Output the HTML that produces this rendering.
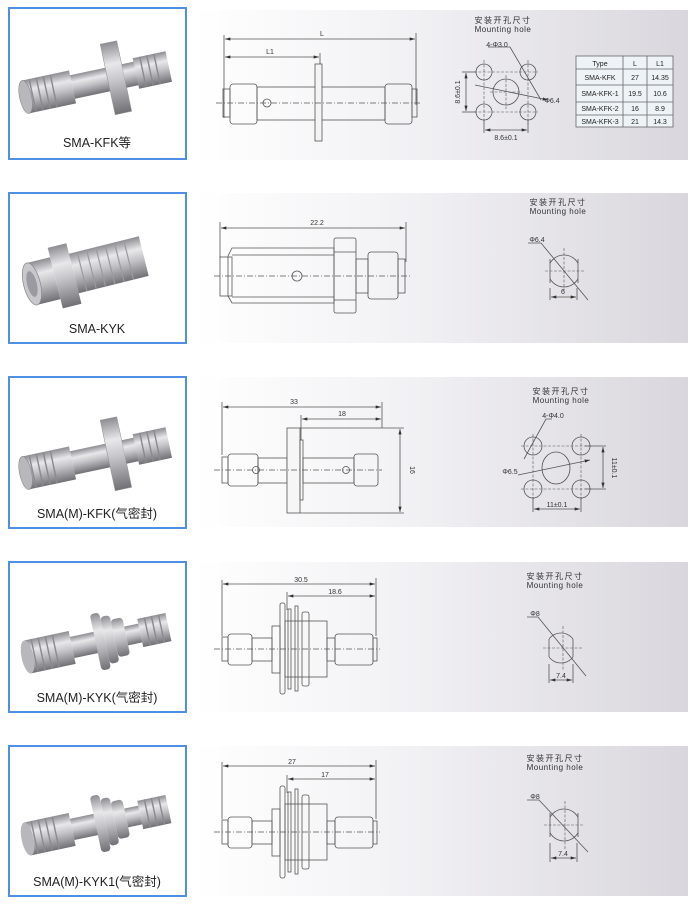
<!DOCTYPE html>
<html><head><meta charset="utf-8"><style>
html,body{margin:0;padding:0;background:#fff;}
svg{display:block;font-family:"Liberation Sans","Noto Sans CJK SC",sans-serif;}
</style></head><body>
<svg width="696" height="906" viewBox="0 0 696 906" xmlns="http://www.w3.org/2000/svg">
<defs>
<linearGradient id="pg" x1="0" y1="0" x2="1" y2="0">
<stop offset="0" stop-color="#ffffff"/><stop offset="0.45" stop-color="#f1f0f3"/><stop offset="1" stop-color="#d9d7dd"/>
</linearGradient>
<linearGradient id="met" x1="0" y1="0" x2="0" y2="1">
<stop offset="0" stop-color="#8d8d92"/><stop offset="0.3" stop-color="#e8e8ea"/><stop offset="0.55" stop-color="#c4c4c8"/><stop offset="1" stop-color="#707075"/>
</linearGradient>
<clipPath id="c2"><rect x="550" y="240" width="28" height="60"/></clipPath>
<clipPath id="c4"><rect x="549" y="620" width="24" height="60"/></clipPath>
<clipPath id="c5"><rect x="550" y="800" width="28" height="60"/></clipPath>
<g id="photoA">
<rect x="-60" y="-14" width="40" height="28" fill="url(#met)"/>
<rect x="-20" y="-10" width="35" height="20" fill="url(#met)"/>
<rect x="10" y="-30" width="14" height="60" fill="url(#met)" stroke="#999" stroke-width="0.5"/>
<rect x="24" y="-10" width="12" height="20" fill="url(#met)"/>
<rect x="34" y="-13" width="28" height="26" fill="url(#met)"/>
<ellipse cx="-60" cy="0" rx="5" ry="14" fill="#b8b8bc" stroke="#888" stroke-width="0.5"/>
<g stroke="#8a8a90" stroke-width="1.2"><line x1="-54" y1="-14" x2="-54" y2="14"/><line x1="-48" y1="-14" x2="-48" y2="14"/><line x1="-42" y1="-14" x2="-42" y2="14"/><line x1="-36" y1="-14" x2="-36" y2="14"/><line x1="40" y1="-13" x2="40" y2="13"/><line x1="46" y1="-13" x2="46" y2="13"/><line x1="52" y1="-13" x2="52" y2="13"/></g>
</g>
<g id="photoB">
<rect x="-60" y="-14" width="38" height="28" fill="url(#met)"/>
<rect x="-22" y="-9" width="22" height="18" fill="url(#met)"/>
<rect x="-2" y="-24" width="8" height="48" rx="3" fill="url(#met)"/>
<rect x="6" y="-20" width="8" height="40" rx="3" fill="url(#met)"/>
<rect x="14" y="-16" width="10" height="32" rx="3" fill="url(#met)"/>
<rect x="24" y="-8" width="12" height="16" fill="url(#met)"/>
<rect x="36" y="-12" width="24" height="24" fill="url(#met)"/>
<ellipse cx="-60" cy="0" rx="5" ry="14" fill="#b8b8bc"/>
<g stroke="#8a8a90" stroke-width="1.2"><line x1="-54" y1="-14" x2="-54" y2="14"/><line x1="-48" y1="-14" x2="-48" y2="14"/><line x1="-42" y1="-14" x2="-42" y2="14"/><line x1="-36" y1="-14" x2="-36" y2="14"/><line x1="42" y1="-12" x2="42" y2="12"/><line x1="48" y1="-12" x2="48" y2="12"/><line x1="54" y1="-12" x2="54" y2="12"/></g>
</g>
<marker id="ar" viewBox="0 0 10 6" refX="10" refY="3" markerWidth="8" markerHeight="4" orient="auto-start-reverse"><path d="M0,0L10,3L0,6z" fill="#333"/></marker>
</defs>

<rect x="195" y="10" width="493" height="150" fill="url(#pg)"/>
<rect x="195" y="193" width="493" height="150" fill="url(#pg)"/>
<rect x="195" y="377" width="493" height="150" fill="url(#pg)"/>
<rect x="195" y="562" width="493" height="150" fill="url(#pg)"/>
<rect x="195" y="746" width="493" height="150" fill="url(#pg)"/>

<g fill="#fff" stroke="#4f8fe6" stroke-width="2">
<rect x="9" y="8" width="177" height="151"/>
<rect x="9" y="193" width="177" height="150"/>
<rect x="9" y="377" width="177" height="151"/>
<rect x="9" y="562" width="177" height="150"/>
<rect x="9" y="746" width="177" height="150"/>
</g>
<use href="#photoA" transform="translate(96,82) rotate(-12) scale(1.2)"/>
<g transform="translate(96,268) rotate(-14) scale(1.2)">
<rect x="-55" y="-18" width="20" height="36" fill="url(#met)"/>
<ellipse cx="-55" cy="0" rx="7" ry="18" fill="#c8c8cc" stroke="#888" stroke-width="0.6"/>
<ellipse cx="-55" cy="0" rx="4" ry="11" fill="#9a9aa0"/>
<rect x="-35" y="-26" width="16" height="52" fill="url(#met)"/>
<rect x="-19" y="-17" width="60" height="34" fill="url(#met)"/>
<g stroke="#9a9aa0" stroke-width="1"><line x1="-12" y1="-17" x2="-12" y2="17"/><line x1="-4" y1="-17" x2="-4" y2="17"/><line x1="4" y1="-17" x2="4" y2="17"/><line x1="12" y1="-17" x2="12" y2="17"/><line x1="20" y1="-17" x2="20" y2="17"/><line x1="28" y1="-17" x2="28" y2="17"/></g>
</g>
<use href="#photoA" transform="translate(96,458) rotate(-12) scale(1.2)"/>
<use href="#photoB" transform="translate(98,642) rotate(-12) scale(1.2)"/>
<use href="#photoB" transform="translate(98,824) rotate(-12) scale(1.2)"/>

<g font-size="12.5" fill="#222" text-anchor="middle">
<text x="97" y="147">SMA-KFK等</text>
<text x="97" y="333">SMA-KYK</text>
<text x="97" y="518">SMA(M)-KFK(气密封)</text>
<text x="97" y="702">SMA(M)-KYK(气密封)</text>
<text x="97" y="886">SMA(M)-KYK1(气密封)</text>
</g>

<g fill="none" stroke="#555" stroke-width="0.8">
<line x1="224" y1="35" x2="224" y2="118"/><line x1="416" y1="33" x2="416" y2="105"/><line x1="320" y1="53" x2="320" y2="64"/>
<line x1="225" y1="39" x2="415" y2="39" marker-start="url(#ar)" marker-end="url(#ar)"/>
<line x1="225" y1="57" x2="319" y2="57" marker-start="url(#ar)" marker-end="url(#ar)"/>
<rect x="223" y="89" width="7" height="28"/>
<rect x="230" y="84" width="27" height="40" rx="3"/>
<rect x="257" y="87" width="128" height="33"/>
<rect x="315" y="64" width="7" height="77" fill="#f4f4f4"/>
<rect x="385" y="84" width="27" height="40" rx="3"/>
<rect x="412" y="89" width="5" height="28"/>
<circle cx="267" cy="103" r="4"/>
<line x1="216" y1="103" x2="422" y2="103" stroke-dasharray="6,2,1,2"/>
<circle cx="484" cy="72" r="8"/><circle cx="528" cy="72" r="8"/><circle cx="484" cy="112" r="8"/><circle cx="528" cy="112" r="8"/>
<circle cx="506" cy="92" r="13"/>
<g stroke-dasharray="3,1.5" stroke-width="0.6"><line x1="484" y1="60" x2="484" y2="124"/><line x1="528" y1="60" x2="528" y2="124"/><line x1="474" y1="72" x2="538" y2="72"/><line x1="474" y1="112" x2="538" y2="112"/><line x1="506" y1="75" x2="506" y2="109"/><line x1="490" y1="92" x2="522" y2="92"/></g>
<line x1="462" y1="72" x2="476" y2="72"/><line x1="462" y1="112" x2="476" y2="112"/>
<line x1="466" y1="73" x2="466" y2="111" marker-start="url(#ar)" marker-end="url(#ar)"/>
<line x1="484" y1="120" x2="484" y2="133"/><line x1="528" y1="120" x2="528" y2="133"/>
<line x1="485" y1="130" x2="527" y2="130" marker-start="url(#ar)" marker-end="url(#ar)"/>
<polyline points="488,47 510,47 541,100"/>
<line x1="475" y1="85" x2="548" y2="100" marker-end="url(#ar)"/>

<line x1="220" y1="222" x2="220" y2="258"/><line x1="406" y1="222" x2="406" y2="262"/>
<line x1="221" y1="228" x2="405" y2="228" marker-start="url(#ar)" marker-end="url(#ar)"/>
<rect x="220" y="257" width="12" height="39"/>
<polygon points="232,248 334,248 334,303 232,303 228,296 228,256"/>
<line x1="232" y1="255" x2="334" y2="255"/><line x1="232" y1="297" x2="334" y2="297"/>
<rect x="334" y="238" width="22" height="75" rx="2"/>
<line x1="334" y1="252" x2="356" y2="252"/><line x1="334" y1="300" x2="356" y2="300"/>
<rect x="356" y="259" width="12" height="34"/>
<rect x="368" y="252" width="30" height="47" rx="3"/>
<rect x="398" y="259" width="7" height="34"/>
<circle cx="297" cy="276" r="5"/>
<line x1="214" y1="276" x2="410" y2="276" stroke-dasharray="6,2,1,2"/>
<circle cx="564" cy="271" r="16" clip-path="url(#c2)"/>
<line x1="550" y1="259" x2="550" y2="283"/><line x1="578" y1="259" x2="578" y2="283"/>
<g stroke-dasharray="3,1.5" stroke-width="0.6"><line x1="564" y1="248" x2="564" y2="293"/><line x1="545" y1="271" x2="584" y2="271"/></g>
<polyline points="528,243 541,243 588,300"/>
<line x1="550" y1="288" x2="550" y2="300"/><line x1="577" y1="288" x2="577" y2="300"/>
<line x1="551" y1="297" x2="576" y2="297" marker-start="url(#ar)" marker-end="url(#ar)"/>

<line x1="222" y1="402" x2="222" y2="455"/><line x1="382" y1="402" x2="382" y2="428"/><line x1="301" y1="415" x2="301" y2="440"/>
<line x1="223" y1="407" x2="381" y2="407" marker-start="url(#ar)" marker-end="url(#ar)"/>
<line x1="302" y1="419" x2="381" y2="419" marker-start="url(#ar)" marker-end="url(#ar)"/>
<rect x="222" y="457" width="6" height="26"/>
<rect x="228" y="454" width="30" height="32" rx="3"/>
<rect x="258" y="458" width="29" height="25"/>
<rect x="287" y="428" width="13" height="85" fill="#f6f6f6"/>
<rect x="300" y="440" width="3" height="60"/>
<rect x="303" y="458" width="51" height="25"/>
<rect x="354" y="454" width="24" height="32" rx="3"/>
<line x1="300" y1="428" x2="404" y2="428"/><line x1="300" y1="513" x2="404" y2="513"/>
<line x1="400" y1="429" x2="400" y2="512" marker-start="url(#ar)" marker-end="url(#ar)"/>
<circle cx="256" cy="470" r="3.5"/><circle cx="346" cy="470" r="3.5"/>
<line x1="214" y1="470" x2="382" y2="470" stroke-dasharray="6,2,1,2"/>
<circle cx="533" cy="446" r="9"/><circle cx="581" cy="446" r="9"/><circle cx="533" cy="489" r="9"/><circle cx="581" cy="489" r="9"/>
<ellipse cx="556" cy="468" rx="14" ry="16"/>
<g stroke-dasharray="3,1.5" stroke-width="0.6"><line x1="533" y1="434" x2="533" y2="501"/><line x1="581" y1="434" x2="581" y2="501"/><line x1="521" y1="446" x2="593" y2="446"/><line x1="521" y1="489" x2="593" y2="489"/></g>
<line x1="585" y1="446" x2="606" y2="446"/><line x1="585" y1="489" x2="606" y2="489"/>
<line x1="603" y1="447" x2="603" y2="488" marker-start="url(#ar)" marker-end="url(#ar)"/>
<line x1="533" y1="497" x2="533" y2="512"/><line x1="581" y1="497" x2="581" y2="512"/>
<line x1="534" y1="509" x2="580" y2="509" marker-start="url(#ar)" marker-end="url(#ar)"/>
<polyline points="552,419 546,419 524,459"/>
<line x1="518" y1="475" x2="590" y2="460" marker-end="url(#ar)"/>

<line x1="222" y1="580" x2="222" y2="636"/><line x1="376" y1="578" x2="376" y2="636"/><line x1="287" y1="592" x2="287" y2="610"/>
<line x1="223" y1="584" x2="375" y2="584" marker-start="url(#ar)" marker-end="url(#ar)"/>
<line x1="288" y1="596" x2="375" y2="596" marker-start="url(#ar)" marker-end="url(#ar)"/>
<rect x="222" y="637" width="6" height="24"/>
<rect x="228" y="634" width="24" height="31" rx="3"/>
<rect x="252" y="638" width="20" height="23"/>
<rect x="272" y="626" width="8" height="47"/>
<rect x="280" y="603" width="5" height="91" rx="2"/>
<rect x="288" y="609" width="3" height="80"/>
<rect x="295" y="606" width="3" height="85"/>
<rect x="302" y="612" width="7" height="74" rx="2"/>
<rect x="285" y="621" width="42" height="56"/>
<rect x="327" y="638" width="8" height="23"/>
<rect x="335" y="634" width="38" height="31" rx="3"/>
<rect x="373" y="638" width="4" height="23"/>
<line x1="214" y1="649" x2="380" y2="649" stroke-dasharray="6,2,1,2"/>
<circle cx="561" cy="648" r="15" clip-path="url(#c4)"/>
<line x1="549" y1="639" x2="549" y2="657"/><line x1="573" y1="639" x2="573" y2="657"/>
<g stroke-dasharray="3,1.5" stroke-width="0.6"><line x1="563" y1="626" x2="563" y2="670"/><line x1="543" y1="648" x2="582" y2="648"/></g>
<polyline points="527,617 538,617 586,676"/>
<line x1="549" y1="664" x2="549" y2="683"/><line x1="573" y1="664" x2="573" y2="683"/>
<line x1="550" y1="680" x2="572" y2="680" marker-start="url(#ar)" marker-end="url(#ar)"/>

<line x1="222" y1="762" x2="222" y2="819"/><line x1="376" y1="760" x2="376" y2="819"/><line x1="287" y1="775" x2="287" y2="793"/>
<line x1="223" y1="766" x2="375" y2="766" marker-start="url(#ar)" marker-end="url(#ar)"/>
<line x1="288" y1="779" x2="375" y2="779" marker-start="url(#ar)" marker-end="url(#ar)"/>
<rect x="222" y="820" width="6" height="24"/>
<rect x="228" y="817" width="24" height="31" rx="3"/>
<rect x="252" y="821" width="20" height="23"/>
<rect x="272" y="809" width="8" height="47"/>
<rect x="280" y="786" width="5" height="92" rx="2"/>
<rect x="288" y="792" width="3" height="80"/>
<rect x="295" y="789" width="3" height="85"/>
<rect x="302" y="795" width="7" height="74" rx="2"/>
<rect x="285" y="804" width="42" height="56"/>
<rect x="327" y="821" width="8" height="23"/>
<rect x="335" y="817" width="38" height="31" rx="3"/>
<rect x="373" y="821" width="4" height="23"/>
<line x1="214" y1="832" x2="380" y2="832" stroke-dasharray="6,2,1,2"/>
<circle cx="564" cy="825" r="16" clip-path="url(#c5)"/>
<line x1="550" y1="813" x2="550" y2="837"/><line x1="578" y1="813" x2="578" y2="837"/>
<g stroke-dasharray="3,1.5" stroke-width="0.6"><line x1="565" y1="801" x2="565" y2="850"/><line x1="544" y1="825" x2="584" y2="825"/></g>
<polyline points="527,800 539,800 588,852"/>
<line x1="550" y1="843" x2="550" y2="862"/><line x1="577" y1="843" x2="577" y2="862"/>
<line x1="551" y1="858" x2="576" y2="858" marker-start="url(#ar)" marker-end="url(#ar)"/>
</g>

<g stroke="#666" stroke-width="0.8">
<rect x="576" y="56" width="97" height="71" fill="#eef3f7"/>
<line x1="576" y1="69" x2="673" y2="69"/><line x1="576" y1="85" x2="673" y2="85"/><line x1="576" y1="102" x2="673" y2="102"/><line x1="576" y1="115" x2="673" y2="115"/>
<line x1="623" y1="56" x2="623" y2="127"/><line x1="647" y1="56" x2="647" y2="127"/>
</g>
<g font-size="7" fill="#222" text-anchor="middle">
<text x="600" y="66">Type</text><text x="635" y="66">L</text><text x="660" y="66">L1</text>
<text x="600" y="80">SMA-KFK</text><text x="635" y="80">27</text><text x="660" y="80">14.35</text>
<text x="600" y="96">SMA-KFK-1</text><text x="635" y="96">19.5</text><text x="660" y="96">10.6</text>
<text x="600" y="111">SMA-KFK-2</text><text x="635" y="111">16</text><text x="660" y="111">8.9</text>
<text x="600" y="124">SMA-KFK-3</text><text x="635" y="124">21</text><text x="660" y="124">14.3</text>
</g>

<g font-size="7" fill="#333" text-anchor="middle">
<text x="322" y="36">L</text><text x="270" y="54">L1</text>
<text x="317" y="225">22.2</text>
<text x="294" y="404">33</text><text x="342" y="416">18</text>
<text x="301" y="582">30.5</text><text x="335" y="594">18.6</text>
<text x="292" y="764">27</text><text x="325" y="777">17</text>
<text x="506" y="140">8.6±0.1</text>
<text x="497" y="47">4-Φ3.0</text>
<text x="552" y="103">Φ6.4</text>
<text x="537" y="242">Φ6.4</text>
<text x="563" y="294">6</text>
<text x="553" y="418">4-Φ4.0</text>
<text x="510" y="474">Φ6.5</text>
<text x="557" y="507">11±0.1</text>
<text x="535" y="616">Φ8</text>
<text x="561" y="678">7.4</text>
<text x="535" y="799">Φ8</text>
<text x="563" y="856">7.4</text>
<text transform="translate(460,92) rotate(-90)">8.6±0.1</text>
<text transform="translate(612,468) rotate(90)">11±0.1</text>
<text transform="translate(410,470) rotate(90)">16</text>
</g>
<g font-size="8" fill="#333" text-anchor="middle" letter-spacing="1.5">
<text x="503" y="23">安装开孔尺寸</text><text x="503" y="32" letter-spacing="0.5">Mounting hole</text>
<text x="558" y="205">安装开孔尺寸</text><text x="558" y="214" letter-spacing="0.5">Mounting hole</text>
<text x="561" y="394">安装开孔尺寸</text><text x="561" y="403" letter-spacing="0.5">Mounting hole</text>
<text x="555" y="579">安装开孔尺寸</text><text x="555" y="588" letter-spacing="0.5">Mounting hole</text>
<text x="555" y="761">安装开孔尺寸</text><text x="555" y="770" letter-spacing="0.5">Mounting hole</text>
</g>
</svg>
</body></html>
